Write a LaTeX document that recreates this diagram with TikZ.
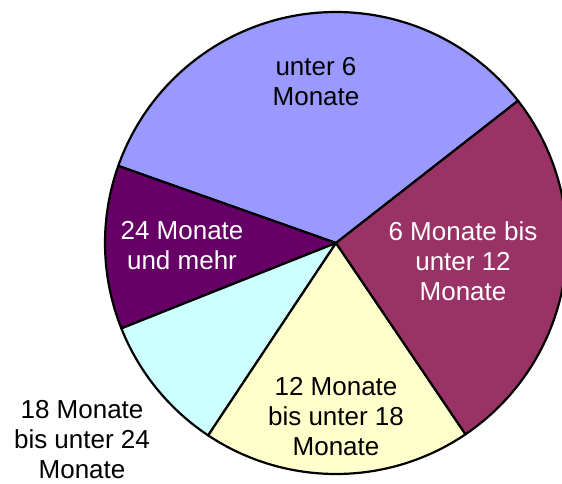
\documentclass[tikz,border=0pt]{standalone}
\usepackage{fontspec}
\setmainfont{Liberation Sans}
\usepackage{tikz}
\usetikzlibrary{positioning}
\definecolor{azul}{HTML}{9999FF}
\definecolor{granate}{HTML}{993366}
\definecolor{crema}{HTML}{FFFFCC}
\definecolor{celeste}{HTML}{CCFFFF}
\definecolor{morado}{HTML}{660066}
\tikzstyle{porcion}=[draw=black,line width=1.1pt,line join=round]
\tikzstyle{etiqueta}=[align=center,font=\fontsize{13}{15}\selectfont,inner sep=0]
\tikzstyle{clara}=[etiqueta,text=white]

\begin{document}
\begin{tikzpicture}[x=0.5pt,y=0.5pt]
	\useasboundingbox (0,0) rectangle (562,-483);
	\coordinate (centro) at (336,-243);
	% sectores
	\foreach \ini/\fin/\col in {38/160.5/azul,160.5/201.7/morado,201.7/236.4/celeste,236.4/304.1/crema,304.1/398/granate}
		\filldraw[porcion,fill=\col] (centro) -- ++(\ini:231) arc[start angle=\ini,end angle=\fin,radius=231] -- cycle;
	% etiquetas
	\node[etiqueta](menos6) at (316,-82){unter 6\\Monate};
	\node[clara](de6a12) at (463,-261){6 Monate bis\\unter 12\\Monate};
	\node[etiqueta](de12a18) at (336,-417){12 Monate\\bis unter 18\\Monate};
	\node[etiqueta](de18a24) at (82,-440){18 Monate\\bis unter 24\\Monate};
	\node[clara](mas24) at (182,-246){24 Monate\\und mehr};
\end{tikzpicture}
\end{document}
